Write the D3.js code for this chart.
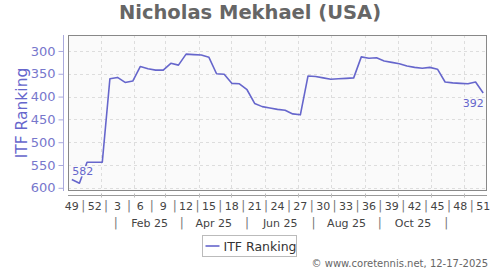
<!DOCTYPE html>
<html>
<head>
<meta charset="utf-8">
<script src="https://cdn.jsdelivr.net/npm/d3@7"></script>
<style>
  body { margin: 0; background: #fff; }
  svg { font-family: "DejaVu Sans", sans-serif; }
</style>
</head>
<body>
<script>
// ISO week 49 of 2024 starts on this Monday; one ranking per week
const firstWeekStart = "2024-12-02";
const ranks = [582, 590, 544, 544, 544, 361, 358, 369, 366, 334,
  339, 342, 342, 327, 331, 307, 308, 309, 314, 350,
  351, 371, 372, 385, 415, 422, 425, 428, 430, 438,
  440, 355, 356, 359, 362, 361, 360, 359, 313, 316,
  315, 322, 325, 328, 333, 336, 338, 336, 340, 368,
  370, 371, 372, 368, 392];
const weekLabels = ["49", "52", "3", "6", "9", "12", "15", "18", "21", "24",
  "27", "30", "33", "36", "39", "42", "45", "48", "51"];
const monthLabels = ["Feb 25", "Apr 25", "Jun 25", "Aug 25", "Oct 25"];
const yTicks = [300, 350, 400, 450, 500, 550, 600];

const width = 500, height = 270;
const plotL = 68, plotR = 487, plotT = 35, plotB = 191;
const lineColor = "#6666cc";
const DAY = 864e5;

const start = new Date(firstWeekStart + "T00:00:00Z");
const weekMid = (i) => new Date(+start + (i * 7 + 3.5) * DAY);
const points = ranks.map((r, i) => ({ date: weekMid(i), rank: r }));

const x = d3.scaleUtc()
  .domain([start, new Date(+start + ranks.length * 7 * DAY)])
  .range([plotL, plotR]);
const y = d3.scaleLinear().domain([265, 607]).range([plotT, plotB]);

const svg = d3.select("body").append("svg")
  .attr("width", width)
  .attr("height", height);

svg.append("text")
  .attr("x", 250).attr("y", 18.5)
  .attr("text-anchor", "middle")
  .attr("font-size", 19.5).attr("font-weight", "bold")
  .attr("fill", "#666")
  .text("Nicholas Mekhael (USA)");

svg.append("rect")
  .attr("x", plotL + 0.5).attr("y", plotT + 0.5)
  .attr("width", plotR - plotL - 1).attr("height", plotB - plotT - 1)
  .attr("fill", "#fafafa");

// gridlines
const months = x.ticks(d3.utcMonth.every(1)).filter(d => +d > +x.domain()[0]);
svg.append("g").selectAll("line").data(months).join("line")
  .attr("x1", d => Math.round(x(d)) + 0.5).attr("x2", d => Math.round(x(d)) + 0.5)
  .attr("y1", plotT).attr("y2", plotB)
  .attr("stroke", "#ddd").attr("stroke-dasharray", "3,3");
svg.append("g").selectAll("line").data(yTicks).join("line")
  .attr("x1", plotL).attr("x2", plotR)
  .attr("y1", d => Math.round(y(d)) + 0.5).attr("y2", d => Math.round(y(d)) + 0.5)
  .attr("stroke", "#ddd").attr("stroke-dasharray", "3,3");

svg.append("rect")
  .attr("x", plotL + 0.5).attr("y", plotT + 0.5)
  .attr("width", plotR - plotL - 1).attr("height", plotB - plotT - 1)
  .attr("fill", "none").attr("stroke", "#888");

// y axis
const yAxis = svg.append("g")
  .attr("transform", `translate(63.5,0)`)
  .call(d3.axisLeft(y).tickValues(yTicks).tickSize(5).tickPadding(3));
yAxis.select(".domain").attr("stroke", "#aaaadd").attr("d", `M0,${plotT}V${plotB}`);
yAxis.selectAll(".tick line").attr("stroke", "#aaaadd");
yAxis.selectAll(".tick text")
  .attr("fill", "#7777cc").attr("font-size", 13)
  .attr("font-family", "DejaVu Sans, sans-serif");

svg.append("text")
  .attr("transform", `translate(26.5,${(plotT + plotB) / 2}) rotate(-90)`)
  .attr("text-anchor", "middle")
  .attr("font-size", 15.5)
  .attr("fill", lineColor)
  .text("ITF Ranking");

// x axis
const xAxisY = 195.5;
svg.append("line")
  .attr("x1", plotL).attr("x2", plotR)
  .attr("y1", xAxisY).attr("y2", xAxisY)
  .attr("stroke", "#999");
svg.append("g").selectAll("line").data(months).join("line")
  .attr("x1", d => Math.round(x(d)) + 0.5).attr("x2", d => Math.round(x(d)) + 0.5)
  .attr("y1", xAxisY - 2).attr("y2", xAxisY + 2)
  .attr("stroke", "#bbb");

const weekPos = weekLabels.map((w, k) => ({ label: w, date: weekMid(k * 3) }));
svg.append("g").selectAll("text").data(weekPos).join("text")
  .attr("x", d => x(d.date)).attr("y", 210)
  .attr("text-anchor", "middle")
  .attr("font-size", 11).attr("fill", "#444")
  .text(d => d.label);
svg.append("g").selectAll("text").data(weekPos.slice(0, -1)).join("text")
  .attr("x", (d, k) => (x(d.date) + x(weekPos[k + 1].date)) / 2).attr("y", 210)
  .attr("text-anchor", "middle")
  .attr("font-size", 12).attr("fill", "#777")
  .text("|");

const monthPos = monthLabels.map((m, k) => ({ label: m, date: new Date(Date.UTC(2025, 1 + k * 2, 15)) }));
svg.append("g").selectAll("text").data(monthPos).join("text")
  .attr("x", d => x(d.date)).attr("y", 227)
  .attr("text-anchor", "middle")
  .attr("font-size", 11).attr("fill", "#444")
  .text(d => d.label);
const sepDates = [new Date(Date.UTC(2024, 11, 15))].concat(monthPos.map(d => d.date), [new Date(Date.UTC(2025, 11, 15))]);
svg.append("g").selectAll("text").data(d3.pairs(sepDates)).join("text")
  .attr("x", d => (x(d[0]) + x(d[1])) / 2).attr("y", 227)
  .attr("text-anchor", "middle")
  .attr("font-size", 12).attr("fill", "#777")
  .text("|");

// line
svg.append("path")
  .datum(points)
  .attr("fill", "none")
  .attr("stroke", lineColor)
  .attr("stroke-width", 1.6)
  .attr("stroke-linejoin", "round")
  .attr("d", d3.line().x(d => x(d.date)).y(d => y(d.rank)));

// first / last value labels, with a light halo over the line
const firstP = points[0], lastP = points[points.length - 1];
svg.append("text")
  .attr("x", x(firstP.date) + 0.5).attr("y", y(firstP.rank) - 5)
  .attr("font-size", 11).attr("fill", lineColor)
  .attr("stroke", "#fafafa").attr("stroke-width", 3).attr("paint-order", "stroke")
  .text(firstP.rank);
svg.append("text")
  .attr("x", x(lastP.date) + 0.5).attr("y", y(lastP.rank) + 14)
  .attr("text-anchor", "end")
  .attr("font-size", 11).attr("fill", lineColor)
  .attr("stroke", "#fafafa").attr("stroke-width", 3).attr("paint-order", "stroke")
  .text(lastP.rank);

// legend
const lg = svg.append("g").attr("transform", "translate(202.5,235.5)");
lg.append("rect").attr("width", 94).attr("height", 21)
  .attr("fill", "#fff").attr("stroke", "#bbb");
lg.append("line").attr("x1", 3).attr("x2", 17).attr("y1", 10.5).attr("y2", 10.5)
  .attr("stroke", lineColor).attr("stroke-width", 1.6);
lg.append("text").attr("x", 21).attr("y", 15)
  .attr("font-size", 12.5).attr("fill", "#333")
  .text("ITF Ranking");

svg.append("text")
  .attr("x", 488).attr("y", 267)
  .attr("text-anchor", "end")
  .attr("font-size", 10).attr("fill", "#666")
  .text("© www.coretennis.net, 12-17-2025");
</script>
</body>
</html>
